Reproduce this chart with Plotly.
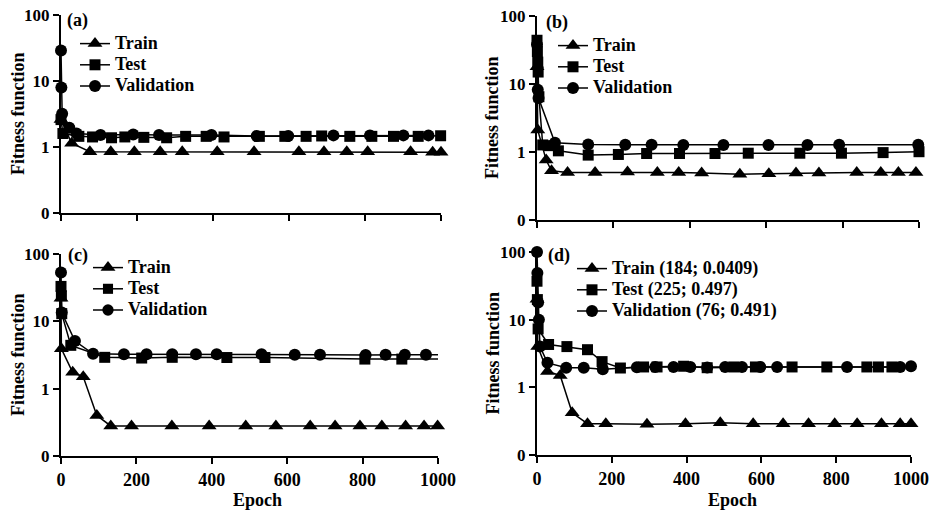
import plotly.graph_objects as go

W, H = 935, 516

# ---------------- data ----------------
# Panel (a)
a_train_x = [0, 28, 76, 131, 193, 261, 319, 411, 508, 626, 692, 752, 807, 920, 978, 1000]
a_train_y = [2.6, 1.14, 0.85, 0.85, 0.85, 0.85, 0.85, 0.85, 0.85, 0.85, 0.85, 0.85, 0.85, 0.85, 0.83, 0.83]
a_test_x = [0, 5, 47, 83, 133, 168, 218, 278, 328, 382, 429, 522, 589, 645, 686, 760, 818, 875, 940, 999]
a_test_y = [2.6, 1.6, 1.45, 1.42, 1.38, 1.42, 1.40, 1.38, 1.45, 1.45, 1.42, 1.45, 1.45, 1.45, 1.47, 1.45, 1.45, 1.45, 1.45, 1.48]
a_val_x = [0, 1, 3, 22, 41, 104, 190, 258, 396, 515, 598, 717, 813, 901, 967]
a_val_y = [29, 8.0, 3.2, 1.96, 1.6, 1.52, 1.55, 1.52, 1.52, 1.47, 1.47, 1.5, 1.5, 1.5, 1.5]

# Panel (b)
b_train_x = [0, 2, 24, 38, 80, 152, 237, 315, 371, 431, 531, 607, 678, 738, 837, 900, 946, 992]
b_train_y = [18, 2.1, 0.76, 0.53, 0.5, 0.5, 0.51, 0.5, 0.5, 0.49, 0.47, 0.48, 0.49, 0.49, 0.5, 0.5, 0.5, 0.5]
b_test_x = [0, 1, 2, 3, 5, 15, 30, 56, 134, 213, 287, 373, 466, 553, 688, 797, 906, 1000]
b_test_y = [44, 30, 21, 15, 6.5, 1.27, 1.24, 1.04, 0.90, 0.92, 0.95, 0.95, 0.95, 0.96, 0.96, 0.96, 0.98, 1.01]
b_val_x = [0, 2, 4, 47, 134, 231, 300, 383, 488, 606, 708, 791, 998]
b_val_y = [38, 8.2, 6.2, 1.37, 1.29, 1.28, 1.28, 1.27, 1.27, 1.27, 1.27, 1.28, 1.28]

# Panel (c)
c_train_x = [0, 1, 31, 59, 95, 132, 187, 294, 393, 490, 570, 661, 727, 793, 851, 914, 963, 999]
c_train_y = [22, 3.9, 1.75, 1.5, 0.40, 0.28, 0.28, 0.28, 0.28, 0.28, 0.28, 0.28, 0.28, 0.28, 0.28, 0.28, 0.28, 0.28]
c_test_x = [0, 1, 2, 26, 116, 214, 295, 440, 541, 806, 904, 1000]
c_test_y = [33, 24, 13, 4.4, 2.92, 2.85, 2.92, 2.9, 2.9, 2.75, 2.75, 2.75]
c_val_x = [0, 2, 37, 85, 167, 227, 295, 358, 413, 532, 620, 687, 808, 861, 912, 968, 1000]
c_val_y = [53, 13.5, 5.1, 3.3, 3.24, 3.24, 3.24, 3.24, 3.24, 3.24, 3.2, 3.2, 3.15, 3.2, 3.2, 3.2, 3.2]

# Panel (d)
d_train_x = [0, 2, 28, 62, 94, 135, 184, 294, 397, 490, 578, 658, 726, 796, 856, 921, 971, 1000]
d_train_y = [20, 4.0, 1.72, 1.5, 0.42, 0.29, 0.29, 0.285, 0.29, 0.30, 0.29, 0.29, 0.29, 0.29, 0.29, 0.29, 0.29, 0.29]
d_test_x = [0, 1, 3, 31, 80, 135, 174, 223, 285, 321, 392, 455, 526, 584, 682, 775, 882, 913, 949]
d_test_y = [37, 19.8, 7.3, 4.3, 4.0, 3.6, 2.4, 1.93, 2.0, 2.0, 2.05, 1.95, 2.0, 2.0, 2.0, 2.0, 2.0, 2.0, 2.0]
d_val_x = [0, 1, 3, 5, 8, 28, 78, 125, 176, 267, 316, 365, 410, 455, 503, 548, 597, 642, 829, 971, 1000]
d_val_y = [100, 49, 18, 10, 4.0, 2.3, 1.95, 1.95, 1.85, 1.98, 2.0, 2.0, 2.0, 1.97, 2.0, 2.0, 2.0, 2.0, 2.0, 2.0, 2.05]

legend_names_abc = ["Train", "Test", "Validation"]
legend_names_d = ["Train (184; 0.0409)", "Test (225; 0.497)", "Validation (76; 0.491)"]
panel_labels = ["(a)", "(b)", "(c)", "(d)"]

y_tickvals = [0.1, 1, 10, 100]
y_ticktext = ["0", "1", "10", "100"]
x_tickvals = [0, 200, 400, 600, 800, 1000]
x_ticktext = ["0", "200", "400", "600", "800", "1000"]

# ---------------- layout geometry (pixels) ----------------
panels = [
    dict(x0=61, x1=441, ytop=15, ybot=213, xt=18, show_x=False, leg=(75, 28), lab=(77, 21)),
    dict(x0=537, x1=919, ytop=16, ybot=220, xt=492, show_x=False, leg=(553, 30), lab=(557, 23)),
    dict(x0=61, x1=438, ytop=254, ybot=456, xt=18, show_x=True, leg=(88, 252), lab=(78, 255)),
    dict(x0=537, x1=911, ytop=252, ybot=455, xt=492, show_x=True, leg=(572, 253), lab=(559, 255)),
]

FONT = "Liberation Serif, Times New Roman, serif"

def px_x(p):
    return p / W

def px_y(p):
    return 1 - p / H

def b(s):
    return "<b>" + s + "</b>"

def leg_text(s):
    return '<span style="font-size:18px"><b>' + s + "</b></span>"

data_sets = [
    (a_train_x, a_train_y, a_test_x, a_test_y, a_val_x, a_val_y),
    (b_train_x, b_train_y, b_test_x, b_test_y, b_val_x, b_val_y),
    (c_train_x, c_train_y, c_test_x, c_test_y, c_val_x, c_val_y),
    (d_train_x, d_train_y, d_test_x, d_test_y, d_val_x, d_val_y),
]

fig = go.Figure()
layout = dict(
    width=W, height=H, autosize=False,
    margin=dict(l=0, r=0, t=0, b=0, autoexpand=False),
    paper_bgcolor="white", plot_bgcolor="white",
    font=dict(family=FONT, size=17, color="black"),
    annotations=[],
)

symbols = ["triangle-up", "square", "circle"]
msizes = [13, 11, 12]

for i, (p, ds) in enumerate(zip(panels, data_sets)):
    n = "" if i == 0 else str(i + 1)
    xa, ya = "x" + n, "y" + n
    leg = "legend" + n
    names = legend_names_d if i == 3 else legend_names_abc
    series = [(ds[0], ds[1]), (ds[2], ds[3]), (ds[4], ds[5])]
    for k, (xs, ys) in enumerate(series):
        sizes = [msizes[k]] * len(xs)
        # panel (c): Test/Validation lines run to 1000 without a final marker
        if i == 2 and k > 0:
            sizes[-1] = 0
        fig.add_trace(go.Scatter(
            x=xs, y=ys, name=leg_text(names[k]), mode="lines+markers",
            xaxis=xa, yaxis=ya, legend=leg, cliponaxis=False,
            line=dict(color="black", width=1.5),
            marker=dict(symbol=symbols[k], size=sizes, color="black", opacity=1,
                        line=dict(width=0)),
        ))
    layout["xaxis" + n] = dict(
        domain=[px_x(p["x0"]), px_x(p["x1"])], anchor=ya,
        range=[0, 1000], tickvals=x_tickvals, ticktext=[b(t) for t in x_ticktext],
        showticklabels=p["show_x"],
        showline=True, linecolor="black", linewidth=2,
        ticks="outside", ticklen=6, tickwidth=2, tickcolor="black",
        showgrid=False, zeroline=False,
        tickfont=dict(family=FONT, size=18, color="black"),
    )
    layout["yaxis" + n] = dict(
        domain=[px_y(p["ybot"]), px_y(p["ytop"])], anchor=xa,
        type="log", range=[-1, 2], tickvals=y_tickvals, ticktext=[b(t) for t in y_ticktext],
        showline=True, linecolor="black", linewidth=2,
        ticks="outside", ticklen=6, tickwidth=2, tickcolor="black",
        showgrid=False, zeroline=False,
        tickfont=dict(family=FONT, size=17, color="black"),
    )
    layout[leg] = dict(
        x=px_x(p["leg"][0]), y=px_y(p["leg"][1]), xanchor="left", yanchor="top",
        bgcolor="rgba(0,0,0,0)", borderwidth=0, tracegroupgap=0,
        font=dict(family=FONT, size=14, color="black"),
    )
    # panel label
    layout["annotations"].append(dict(
        text=b(panel_labels[i]), x=px_x(p["lab"][0]), y=px_y(p["lab"][1]),
        xref="paper", yref="paper", showarrow=False, xanchor="center", yanchor="middle",
        font=dict(family=FONT, size=18, color="black"),
    ))
    # y-axis title
    layout["annotations"].append(dict(
        text=b("Fitness function"), x=px_x(p["xt"]), y=px_y((p["ytop"] + p["ybot"]) / 2),
        xref="paper", yref="paper", showarrow=False, textangle=-90,
        xanchor="center", yanchor="middle",
        font=dict(family=FONT, size=18, color="black"),
    ))
    if p["show_x"]:
        layout["annotations"].append(dict(
            text=b("Epoch"), x=px_x((p["x0"] + p["x1"]) / 2 + 8), y=px_y(500),
            xref="paper", yref="paper", showarrow=False,
            xanchor="center", yanchor="middle",
            font=dict(family=FONT, size=18, color="black"),
        ))

fig.update_layout(**layout)
fig.write_html("out.html")
